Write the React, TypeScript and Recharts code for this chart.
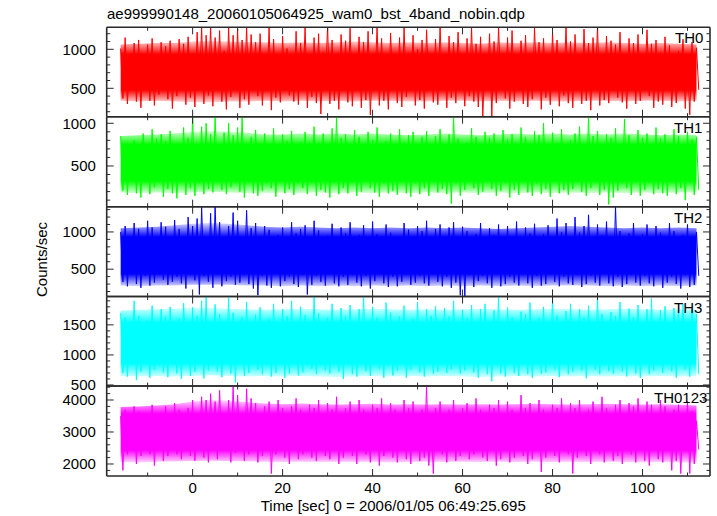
import React from 'react';
import { ComposedChart, Line, Area, XAxis, YAxis } from 'recharts';

// one sample per 0.5 s: upper excursion at whole seconds, lower excursion half a second later
const START_TIME = -16;
const HALF_STEP = 0.5;
// envelope of the dense part of the band, read every 4 s
const CORE_STEP = 4;

const TH0_HIGH = [
  1010, 1150, 900, 1080, 1120, 930, 1060, 1140, 880, 1090,
  1040, 1110, 920, 1130, 1070, 1160, 950, 1220, 1290, 1180,
  1300, 1150, 1240, 980, 1290, 1180, 1260, 1120, 1300, 1190,
  1090, 1200, 910, 1280, 1130, 940, 1170, 1010, 890, 1230,
  1080, 1290, 930, 1150, 1200, 960, 1300, 1120, 900, 1190,
  1110, 1270, 920, 1160, 1090, 1230, 940, 1300, 1140, 880,
  1210, 930, 1150, 1290, 950, 1180, 1000, 1120, 1250, 910,
  1130, 1300, 940, 1170, 1090, 1220, 890, 1140, 1280, 1070,
  1160, 920, 1200, 1100, 1290, 950, 1150, 1240, 900, 1110,
  1180, 940, 1270, 1090, 1140, 880, 1210, 1120, 950, 1300,
  1100, 1190, 920, 1260, 1080, 1150, 1300, 930, 1170, 1110,
  1060, 1220, 900, 1140, 1080, 1190, 940, 1250, 1070, 1120,
  960, 1160, 1050, 890, 980, 1130, 920, 1090, 1020,
];
const TH0_LOW = [
  370, 300, 480, 330, 250, 500, 340, 280, 420, 490,
  360, 240, 400, 510, 290, 380, 260, 480, 300, 410,
  270, 500, 330, 230, 390, 490, 250, 360, 290, 510,
  400, 280, 480, 220, 380, 320, 500, 410, 330, 290,
  490, 250, 390, 310, 170, 510, 300, 340, 230, 480,
  320, 270, 500, 250, 350, 160, 490, 280, 340, 230,
  510, 310, 260, 390, 480, 280, 350, 240, 500, 320,
  290, 490, 250, 380, 310, 510, 270, 400, 330, 260,
  140, 480, 140, 310, 500, 370, 240, 330, 490, 300,
  260, 360, 510, 230, 380, 290, 480, 270, 410, 310,
  250, 500, 300, 340, 220, 490, 280, 350, 310, 510,
  380, 320, 240, 480, 300, 340, 500, 400, 250, 330,
  290, 490, 260, 310, 500, 240, 160, 330, 480,
];
const TH0_CORE_HIGH = [1060, 1070, 1080, 1080, 1100, 1110, 1100, 1090, 1090, 1080, 1090, 1080, 1090, 1100, 1090, 1080, 1090, 1080, 1090, 1080, 1070, 1090, 1080, 1090, 1080, 1090, 1080, 1090, 1080, 1070, 1080, 1070, 1060];
const TH0_CORE_LOW = [340, 330, 340, 330, 320, 320, 330, 330, 340, 330, 340, 330, 340, 330, 340, 340, 330, 330, 340, 340, 330, 340, 330, 340, 330, 330, 340, 340, 330, 340, 340, 330, 340];

const TH1_HIGH = [
  850, 760, 680, 800, 720, 880, 700, 930, 820, 870,
  790, 910, 690, 760, 950, 830, 1080, 720, 960, 1000,
  870, 1080, 700, 890, 1000, 860, 950, 1080, 740, 840,
  920, 690, 880, 760, 940, 700, 870, 790, 910, 680,
  780, 900, 700, 960, 760, 880, 690, 940, 1080, 830,
  870, 700, 920, 840, 680, 900, 800, 950, 710, 790,
  880, 690, 930, 770, 860, 900, 700, 840, 910, 690,
  850, 930, 700, 870, 1080, 820, 690, 770, 940, 840,
  700, 900, 830, 880, 680, 920, 810, 870, 700, 950,
  840, 690, 910, 860, 1000, 700, 890, 770, 930, 690,
  800, 880, 960, 700, 1080, 850, 910, 690, 870, 830,
  940, 700, 1050, 860, 690, 920, 830, 880, 700, 950,
  820, 870, 690, 930, 850, 700, 900, 810, 840,
];
const TH1_LOW = [
  210, 160, 320, 180, 130, 300, 170, 250, 310, 140,
  230, 180, 120, 310, 160, 240, 150, 300, 170, 230,
  190, 320, 220, 170, 250, 300, 200, 130, 310, 180,
  150, 210, 300, 240, 140, 320, 180, 230, 160, 300,
  240, 170, 310, 150, 220, 190, 130, 300, 170, 240,
  180, 310, 150, 200, 320, 240, 190, 140, 300, 180,
  210, 160, 310, 180, 140, 300, 170, 240, 150, 320,
  190, 230, 170, 60, 300, 150, 220, 310, 240, 160,
  200, 320, 230, 150, 210, 300, 130, 220, 160, 310,
  190, 150, 300, 170, 230, 140, 320, 180, 220, 160,
  230, 310, 200, 150, 240, 300, 160, 220, 50, 130,
  210, 300, 240, 160, 310, 150, 220, 300, 170, 230,
  180, 150, 310, 170, 240, 100, 300, 160, 220,
];
const TH1_CORE_HIGH = [850, 860, 870, 880, 900, 910, 900, 890, 870, 870, 880, 870, 880, 870, 880, 870, 860, 870, 880, 870, 860, 870, 880, 870, 880, 870, 880, 870, 880, 870, 860, 870, 860];
const TH1_CORE_LOW = [190, 180, 190, 180, 190, 200, 190, 180, 180, 190, 180, 190, 180, 190, 180, 190, 180, 190, 180, 190, 180, 190, 180, 190, 180, 190, 180, 190, 180, 190, 180, 190, 190];

const TH2_HIGH = [
  1000, 1080, 880, 1120, 1040, 900, 1150, 1060, 870, 1130,
  1070, 890, 1160, 1040, 910, 1200, 1080, 1180, 1330, 900,
  1250, 1340, 1130, 920, 1080, 1260, 1150, 900, 1290, 1050,
  1120, 870, 1080, 1030, 900, 960, 1060, 880, 1130, 980,
  1040, 1090, 880, 1150, 1020, 900, 950, 1110, 870, 1060,
  980, 1130, 890, 960, 1090, 880, 1140, 970, 900, 1100,
  990, 870, 940, 1120, 1030, 890, 1080, 1010, 1150, 880,
  1040, 1100, 900, 1060, 1130, 870, 1070, 1010, 900, 970,
  1120, 880, 1050, 960, 1100, 900, 1080, 940, 1140, 880,
  1060, 980, 1110, 890, 970, 1090, 900, 1180, 1000, 1120,
  880, 1200, 990, 1080, 1230, 900, 1100, 960, 1140, 870,
  1340, 1010, 900, 980, 1120, 880, 970, 1100, 900, 1080,
  990, 880, 1120, 1010, 900, 960, 1100, 870, 1000,
];
const TH2_LOW = [
  330, 270, 420, 300, 250, 410, 280, 320, 430, 360,
  290, 330, 400, 310, 240, 420, 350, 160, 410, 330,
  250, 430, 270, 340, 400, 290, 320, 420, 300, 240,
  150, 410, 280, 250, 430, 270, 340, 400, 300, 260,
  420, 160, 290, 410, 330, 280, 430, 310, 270, 400,
  290, 420, 320, 270, 410, 240, 340, 430, 310, 260,
  400, 270, 330, 420, 290, 320, 410, 310, 280, 430,
  330, 270, 400, 250, 320, 150, 140, 420, 260, 340,
  410, 310, 250, 430, 270, 300, 400, 320, 280, 420,
  310, 250, 410, 280, 300, 430, 330, 270, 400, 310,
  290, 420, 260, 300, 410, 320, 280, 430, 310, 270,
  400, 260, 300, 420, 320, 280, 410, 310, 270, 430,
  250, 320, 400, 300, 240, 420, 260, 290, 410,
];
const TH2_CORE_HIGH = [1050, 1060, 1070, 1090, 1110, 1120, 1110, 1090, 1070, 1060, 1070, 1060, 1050, 1060, 1050, 1060, 1050, 1060, 1050, 1060, 1050, 1040, 1050, 1060, 1070, 1080, 1070, 1060, 1050, 1060, 1050, 1060, 1050];
const TH2_CORE_LOW = [280, 270, 280, 280, 290, 290, 290, 280, 280, 270, 280, 270, 280, 270, 280, 270, 280, 270, 280, 270, 280, 270, 280, 270, 280, 280, 280, 270, 280, 270, 280, 270, 280];

const TH3_HIGH = [
  1700, 1620, 1500, 1900, 1650, 1520, 1580, 1820, 1490, 1760,
  1640, 1800, 1510, 1600, 1860, 1500, 1790, 1650, 1900, 1980,
  1520, 1840, 1680, 1490, 1950, 1700, 1510, 1630, 1880, 1500,
  1670, 1790, 1520, 1600, 1850, 1490, 1760, 1640, 1900, 1510,
  1800, 1660, 1500, 1980, 1690, 1520, 1620, 1850, 1490, 1780,
  1650, 1830, 1510, 1760, 1980, 1500, 1800, 1620, 1520, 1870,
  1700, 1490, 1640, 1820, 1510, 1600, 1880, 1500, 1760, 1650,
  1810, 1520, 1780, 1640, 1900, 1490, 1750, 1610, 1830, 1510,
  1760, 1850, 1500, 1740, 1980, 1520, 1790, 1630, 1490, 1720,
  1680, 1870, 1510, 1610, 1800, 1500, 1940, 1660, 1520, 1730,
  1850, 1490, 1760, 1620, 1820, 1510, 1980, 1680, 1500, 1710,
  1650, 1880, 1520, 1770, 1630, 1830, 1490, 1760, 1940, 1510,
  1740, 1810, 1500, 1780, 1700, 1850, 1520, 1760, 1680,
];
const TH3_LOW = [
  700, 640, 840, 580, 720, 860, 620, 750, 830, 710,
  630, 850, 690, 600, 840, 650, 720, 870, 610, 740,
  830, 720, 630, 850, 690, 540, 860, 650, 700, 840,
  750, 680, 830, 640, 700, 850, 620, 690, 860, 660,
  710, 840, 770, 680, 830, 740, 690, 860, 720, 600,
  850, 680, 640, 840, 730, 650, 870, 770, 620, 830,
  660, 740, 850, 620, 750, 840, 710, 640, 860, 690,
  720, 830, 700, 760, 850, 690, 740, 840, 710, 620,
  860, 680, 560, 830, 690, 640, 850, 700, 650, 840,
  680, 620, 860, 690, 710, 830, 760, 630, 850, 680,
  720, 840, 740, 610, 860, 750, 680, 830, 730, 690,
  850, 720, 640, 840, 690, 620, 860, 680, 740, 830,
  700, 850, 730, 620, 840, 750, 640, 860, 680,
];
const TH3_CORE_HIGH = [1740, 1750, 1760, 1770, 1790, 1780, 1770, 1760, 1750, 1760, 1770, 1760, 1750, 1760, 1770, 1760, 1750, 1760, 1750, 1760, 1770, 1760, 1750, 1760, 1770, 1760, 1750, 1760, 1770, 1760, 1750, 1760, 1750];
const TH3_CORE_LOW = [650, 640, 650, 640, 650, 660, 650, 640, 650, 640, 650, 640, 630, 640, 650, 640, 650, 640, 650, 640, 630, 640, 650, 640, 650, 640, 650, 640, 650, 640, 650, 640, 650];

const TH0123_HIGH = [
  3500, 3700, 3350, 3800, 3650, 3400, 3550, 3850, 3300, 3600,
  3800, 3400, 3900, 3700, 3350, 3750, 4000, 3450, 4100, 4000,
  4200, 3950, 4300, 3500, 4000, 4440, 4150, 3450, 4350, 4050,
  3900, 3400, 3800, 3950, 3350, 4000, 3750, 3400, 3800, 4050,
  3700, 3350, 3850, 3750, 4000, 3400, 3900, 3700, 4100, 3350,
  3750, 3950, 3400, 4000, 3700, 3300, 3850, 3750, 4050, 3400,
  3900, 3700, 3350, 4000, 3750, 3950, 3400, 3700, 4440, 3350,
  3750, 3950, 3400, 3700, 4000, 3350, 3750, 3900, 3400, 4050,
  3700, 3350, 3850, 3750, 4000, 3400, 3950, 3700, 3350, 4150,
  3750, 3900, 3400, 4000, 3700, 3350, 3850, 3750, 4050, 3400,
  3900, 3750, 4000, 3350, 3700, 3950, 3400, 4100, 3750, 3350,
  3850, 4000, 3400, 3900, 3800, 4050, 3350, 3950, 3850, 3400,
  4000, 3800, 3350, 3700, 3850, 3400, 3950, 3650, 3350,
];
const TH0123_LOW = [
  1800, 2300, 2500, 2000, 2250, 2450, 2300, 1950, 2550, 2100,
  2250, 2500, 2300, 2150, 2450, 2250, 2100, 2550, 2200, 2050,
  2500, 2150, 2400, 2450, 2050, 2350, 2550, 2100, 2300, 2500,
  2050, 2250, 2450, 1700, 2300, 2500, 2200, 2000, 2550, 2150,
  2300, 2450, 2200, 2100, 2500, 2250, 2150, 2550, 2000, 2200,
  2450, 2250, 2000, 2500, 2300, 2050, 2550, 1950, 2250, 2450,
  2200, 2050, 2500, 2150, 2000, 2550, 2100, 2200, 1950, 1700,
  2450, 2300, 2050, 2500, 2100, 2250, 2550, 2150, 2300, 2450,
  2200, 2100, 2500, 1950, 2150, 2550, 2050, 2200, 2450, 2250,
  2000, 2150, 2500, 1750, 2200, 2450, 2250, 2050, 2550, 2300,
  1700, 2200, 2450, 2250, 2000, 2500, 2300, 2050, 2550, 2100,
  2250, 2000, 2450, 2300, 2050, 2500, 2100, 1950, 2550, 2150,
  2050, 2450, 1800, 2100, 1700, 2500, 1700, 2000, 2450,
];
const TH0123_CORE_HIGH = [3780, 3800, 3830, 3870, 3950, 4000, 3980, 3930, 3890, 3870, 3890, 3870, 3860, 3870, 3880, 3860, 3870, 3860, 3870, 3860, 3870, 3860, 3870, 3880, 3870, 3860, 3870, 3880, 3870, 3860, 3870, 3850, 3830];
const TH0123_CORE_LOW = [2060, 2050, 2070, 2080, 2090, 2100, 2090, 2080, 2070, 2060, 2070, 2060, 2070, 2060, 2070, 2050, 2060, 2070, 2060, 2070, 2060, 2070, 2060, 2070, 2060, 2070, 2060, 2070, 2060, 2050, 2060, 2050, 2040];

const X_DOMAIN = [-19.1, 115];
const X_TICKS = [-10, 0, 10, 20, 30, 40, 50, 60, 70, 80, 90, 100, 110];
const X_MAJOR = [0, 20, 40, 60, 80, 100];

const TH0_DOMAIN = [136, 1282];
const TH0_TICKS = [200, 300, 400, 500, 600, 700, 800, 900, 1000, 1100, 1200];
const TH0_MAJOR = [500, 1000];

const TH1_DOMAIN = [23, 1077];
const TH1_TICKS = [100, 200, 300, 400, 500, 600, 700, 800, 900, 1000];
const TH1_MAJOR = [500, 1000];

const TH2_DOMAIN = [133, 1339];
const TH2_TICKS = [200, 300, 400, 500, 600, 700, 800, 900, 1000, 1100, 1200, 1300];
const TH2_MAJOR = [500, 1000];

const TH3_DOMAIN = [483, 1972];
const TH3_TICKS = [500, 600, 700, 800, 900, 1000, 1100, 1200, 1300, 1400, 1500, 1600, 1700, 1800, 1900];
const TH3_MAJOR = [500, 1000, 1500];

const TH0123_DOMAIN = [1625, 4437];
const TH0123_TICKS = [1800, 2000, 2200, 2400, 2600, 2800, 3000, 3200, 3400, 3600, 3800, 4000, 4200, 4400];
const TH0123_MAJOR = [2000, 3000, 4000];

const TITLE = 'ae999990148_20060105064925_wam0_bst_4band_nobin.qdp';
const X_TITLE = 'Time [sec] 0 = 2006/01/05 06:49:25.695';
const Y_TITLE = 'Counts/sec';

type Row = { t: number; v: number; clo?: number; chi?: number };

function buildSeries(high: number[], low: number[], coreLow: number[], coreHigh: number[]) {
  const out: Row[] = [];
  high.forEach((h, i) => {
    const t = START_TIME + i;
    const row: Row = { t, v: h };
    const ci = (t - START_TIME) / CORE_STEP;
    if (Number.isInteger(ci) && ci < coreLow.length) {
      row.clo = coreLow[ci];
      row.chi = coreHigh[ci];
    }
    out.push(row);
    out.push({ t: t + HALF_STEP, v: low[i] });
  });
  return out;
}

const PANELS = [
  { name: 'TH0', color: '#ff0000', high: TH0_HIGH, low: TH0_LOW, coreLow: TH0_CORE_LOW, coreHigh: TH0_CORE_HIGH, domain: TH0_DOMAIN, ticks: TH0_TICKS, major: TH0_MAJOR, top: 27.3, bottom: 116.7, labelX: 675, labelDy: 16 },
  { name: 'TH1', color: '#00ff00', high: TH1_HIGH, low: TH1_LOW, coreLow: TH1_CORE_LOW, coreHigh: TH1_CORE_HIGH, domain: TH1_DOMAIN, ticks: TH1_TICKS, major: TH1_MAJOR, top: 116.7, bottom: 206.7, labelX: 674, labelDy: 16.5 },
  { name: 'TH2', color: '#0000ff', high: TH2_HIGH, low: TH2_LOW, coreLow: TH2_CORE_LOW, coreHigh: TH2_CORE_HIGH, domain: TH2_DOMAIN, ticks: TH2_TICKS, major: TH2_MAJOR, top: 206.7, bottom: 296.5, labelX: 674, labelDy: 16.5 },
  { name: 'TH3', color: '#00ffff', high: TH3_HIGH, low: TH3_LOW, coreLow: TH3_CORE_LOW, coreHigh: TH3_CORE_HIGH, domain: TH3_DOMAIN, ticks: TH3_TICKS, major: TH3_MAJOR, top: 296.5, bottom: 386, labelX: 674, labelDy: 16.8 },
  { name: 'TH0123', color: '#ff00ff', high: TH0123_HIGH, low: TH0123_LOW, coreLow: TH0123_CORE_LOW, coreHigh: TH0123_CORE_HIGH, domain: TH0123_DOMAIN, ticks: TH0123_TICKS, major: TH0123_MAJOR, top: 386, bottom: 476, labelX: 654, labelDy: 17.3 },
];

const W = 717;
const H = 516;
const PLOT_LEFT = 106.7;
const PLOT_RIGHT = 710;
const Y_AXIS_W = 60;
const R_AXIS_W = 2;
const TOP_AXIS_H = 2;
const BOTTOM_AXIS_H = 30;
const FONT = '"Liberation Sans", Arial, Helvetica, sans-serif';
const FRAME = '#2a2a2a';
const MAJOR_LEN = 7;
const MINOR_LEN = 3.5;

const coreRange = (d: Row) => (d.clo != null && d.chi != null ? [d.clo, d.chi] : null);

function Panel({ p, last }: { p: any; last: boolean }) {
  const data = buildSeries(p.high, p.low, p.coreLow, p.coreHigh);
  const gradId = `band-${p.name}`;
  const axisLine = { stroke: FRAME, strokeWidth: 1.6 };
  const bottomTick = (props: any) => {
    const x = Number(props.x);
    const y = Number(props.y);
    const v = props.payload.value;
    const major = X_MAJOR.includes(v);
    const len = major ? MAJOR_LEN : MINOR_LEN;
    return (
      <g>
        <path d={`M${x},${y}L${x},${y - len}`} stroke={FRAME} strokeWidth={1} fill="none" />
        {last && major ? (
          <text x={x} y={y + 17.3} textAnchor="middle" fontSize={15} fontFamily={FONT} fill="#000" stroke="none">
            {v}
          </text>
        ) : null}
      </g>
    );
  };
  const topTick = (props: any) => {
    const x = Number(props.x);
    const y = Number(props.y);
    const len = X_MAJOR.includes(props.payload.value) ? MAJOR_LEN : MINOR_LEN;
    return <path d={`M${x},${y}L${x},${y + len}`} stroke={FRAME} strokeWidth={1} fill="none" />;
  };
  const leftTick = (props: any) => {
    const x = Number(props.x);
    const y = Number(props.y);
    const v = props.payload.value;
    const major = p.major.includes(v);
    const len = major ? MAJOR_LEN : MINOR_LEN;
    return (
      <g>
        <path d={`M${x},${y}L${x + len},${y}`} stroke={FRAME} strokeWidth={1} fill="none" />
        {major ? (
          <text x={x - 10.8} y={y + 5.3} textAnchor="end" fontSize={15} fontFamily={FONT} fill="#000" stroke="none">
            {v}
          </text>
        ) : null}
      </g>
    );
  };
  const rightTick = (props: any) => {
    const x = Number(props.x);
    const y = Number(props.y);
    const len = p.major.includes(props.payload.value) ? MAJOR_LEN : MINOR_LEN;
    return <path d={`M${x},${y}L${x - len},${y}`} stroke={FRAME} strokeWidth={1} fill="none" />;
  };
  return (
    <div style={{ position: 'absolute', left: 0, top: 0, width: W, height: H }}>
      <ComposedChart
        width={W}
        height={H}
        data={data}
        margin={{
          top: p.top - TOP_AXIS_H,
          bottom: H - p.bottom - BOTTOM_AXIS_H,
          left: PLOT_LEFT - Y_AXIS_W,
          right: W - PLOT_RIGHT - R_AXIS_W,
        }}
      >
        <defs>
          <linearGradient id={gradId} x1="0" y1="0" x2="0" y2="1">
            <stop offset="0" stopColor={p.color} stopOpacity={0.15} />
            <stop offset="0.22" stopColor={p.color} stopOpacity={1} />
            <stop offset="0.8" stopColor={p.color} stopOpacity={1} />
            <stop offset="1" stopColor={p.color} stopOpacity={0.15} />
          </linearGradient>
        </defs>
        <XAxis
          xAxisId="b"
          type="number"
          dataKey="t"
          orientation="bottom"
          domain={X_DOMAIN}
          allowDataOverflow
          ticks={X_TICKS}
          interval={0}
          height={BOTTOM_AXIS_H}
          tickSize={0}
          tickMargin={0}
          tickLine={false}
          axisLine={axisLine}
          tick={bottomTick}
        />
        <XAxis
          xAxisId="t"
          type="number"
          dataKey="t"
          orientation="top"
          domain={X_DOMAIN}
          allowDataOverflow
          ticks={X_TICKS}
          interval={0}
          height={TOP_AXIS_H}
          tickSize={0}
          tickMargin={0}
          tickLine={false}
          axisLine={axisLine}
          tick={topTick}
        />
        <YAxis
          yAxisId="l"
          orientation="left"
          type="number"
          domain={p.domain}
          allowDataOverflow
          ticks={p.ticks}
          interval={0}
          width={Y_AXIS_W}
          tickSize={0}
          tickMargin={0}
          tickLine={false}
          axisLine={axisLine}
          tick={leftTick}
        />
        <YAxis
          yAxisId="r"
          orientation="right"
          type="number"
          domain={p.domain}
          allowDataOverflow
          ticks={p.ticks}
          interval={0}
          width={R_AXIS_W}
          tickSize={0}
          tickMargin={0}
          tickLine={false}
          axisLine={axisLine}
          tick={rightTick}
        />
        <Area
          xAxisId="b"
          yAxisId="l"
          type="linear"
          dataKey={coreRange}
          stroke="none"
          fill={`url(#${gradId})`}
          fillOpacity={1}
          connectNulls
          dot={false}
          activeDot={false}
          isAnimationActive={false}
        />
        <Line
          xAxisId="b"
          yAxisId="l"
          type="linear"
          dataKey="v"
          stroke={p.color}
          strokeWidth={1}
          dot={false}
          activeDot={false}
          isAnimationActive={false}
        />
      </ComposedChart>
    </div>
  );
}

export default function App() {
  return (
    <div style={{ position: 'absolute', left: 0, top: 0, width: W, height: H, background: '#fff', overflow: 'hidden' }}>
      {PANELS.map((p, i) => (
        <Panel key={p.name} p={p} last={i === PANELS.length - 1} />
      ))}
      <svg width={W} height={H} style={{ position: 'absolute', left: 0, top: 0, pointerEvents: 'none' }}>
        <text x={107} y={19} fontSize={15} fontFamily={FONT} fill="#000">{TITLE}</text>
        <text x={260.7} y={510.7} fontSize={15} fontFamily={FONT} fill="#000">{X_TITLE}</text>
        <text
          x={0}
          y={0}
          transform="translate(46.5 259.5) rotate(-90)"
          textAnchor="middle"
          fontSize={15}
          fontFamily={FONT}
          fill="#000"
        >
          {Y_TITLE}
        </text>
        {PANELS.map((p) => (
          <text key={p.name} x={p.labelX} y={p.top + p.labelDy} fontSize={15} fontFamily={FONT} fill="#000">
            {p.name}
          </text>
        ))}
      </svg>
    </div>
  );
}
